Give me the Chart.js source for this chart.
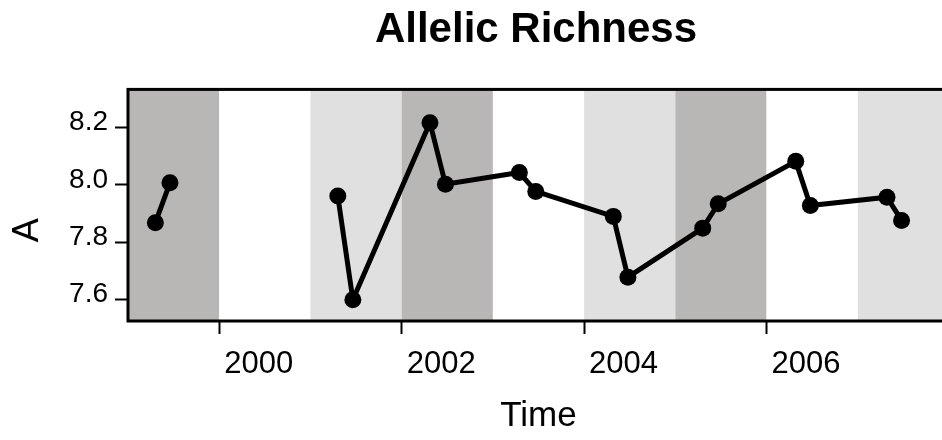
<!DOCTYPE html>
<html>
<head>
<meta charset="utf-8">
<script src="https://cdn.jsdelivr.net/npm/chart.js@4.4.1/dist/chart.umd.min.js"></script>
<style>
html,body{margin:0;padding:0;background:#fff;overflow:hidden}
#wrap{width:1072px;height:440px}
</style>
</head>
<body>
<div id="wrap"><canvas id="grafico"></canvas></div>
<script>
// sampling dates (decimal years) and allelic richness; null = no sample (gap in line)
const sampleTime=[1999.30,1999.46,2000.40,2001.30,2001.465,2002.31,2002.48,2003.29,2003.47,2004.32,2004.48,2005.30,2005.47,2006.32,2006.48,2007.32,2007.48];
const richness=[7.868,8.007,null,7.961,7.599,8.217,8.002,8.043,7.977,7.890,7.678,7.849,7.934,8.082,7.928,7.957,7.876];
const yearTicks=[2000,2002,2004,2006];
const richnessTicks=[7.6,7.8,8.0,8.2];
// background year bands
const bandYears=[1999,2000,2001,2002,2003,2004,2005,2006,2007];
const bandShade=['dark','white','light','dark','white','light','dark','white','light'];
const shades={dark:'#b9b6b6',light:'#e0e0e0',white:'#ffffff'};
const F='"Liberation Sans", Arial, sans-serif';

const bands={id:'bands',beforeDatasetsDraw(c){
 const {ctx,chartArea:a,scales:{x}}=c;
 ctx.save();
 bandYears.forEach((yr,i)=>{
  const l=x.getPixelForValue(yr), r=x.getPixelForValue(yr+1);
  ctx.fillStyle=shades[bandShade[i]];
  ctx.fillRect(l,a.top,r-l,a.bottom-a.top);
 });
 ctx.restore();
}};
const frame={id:'frame',afterDatasetsDraw(c){
 const {ctx,chartArea:a}=c;
 ctx.save();
 ctx.strokeStyle='#000';ctx.lineWidth=3;
 ctx.strokeRect(a.left,a.top,a.right-a.left,a.bottom-a.top);
 ctx.restore();
}};

const tickGrid={drawOnChartArea:false,drawTicks:true,tickLength:13,tickColor:'#000',tickWidth:2};

new Chart(grafico,{
 type:'line',
 data:{datasets:[{
  data:sampleTime.map((t,i)=>({x:t,y:richness[i]})),
  borderColor:'#000',borderWidth:5,backgroundColor:'#000',
  pointRadius:8.5,pointBorderWidth:0,pointBackgroundColor:'#000',
  spanGaps:false,tension:0
 }]},
 options:{
  responsive:true,maintainAspectRatio:false,animation:false,
  layout:{padding:0},
  plugins:{
   legend:{display:false},tooltip:{enabled:false},
   title:{display:true,text:'Allelic Richness',color:'#000',
    font:{family:F,size:42,weight:'bold',lineHeight:1.2},padding:{top:5,bottom:34}}
  },
  scales:{
   x:{type:'linear',min:1999,max:2008,
    afterBuildTicks:s=>{s.ticks=yearTicks.map(v=>({value:v}))},
    afterFit:s=>{s.height=119},
    grid:tickGrid,border:{display:false},
    ticks:{color:'#000',font:{family:F,size:31},padding:12,align:'start',labelOffset:5,
     maxRotation:0,autoSkip:false,callback:v=>String(v)},
    title:{display:true,text:'Time',color:'#000',font:{family:F,size:35,lineHeight:1.2},padding:{top:0,bottom:3}}
   },
   y:{type:'linear',position:'left',min:7.525,max:8.333,
    afterBuildTicks:s=>{s.ticks=richnessTicks.map(v=>({value:v}))},
    afterFit:s=>{s.width=128},
    grid:tickGrid,border:{display:false},
    ticks:{color:'#000',font:{family:F,size:28},padding:7,labelOffset:-5,callback:v=>v.toFixed(1)},
    title:{display:true,text:'A\u00a0\u00a0\u00a0\u00a0\u00a0',color:'#000',font:{family:F,size:36,lineHeight:1.2},padding:{top:6,bottom:0}}
   },
   yr:{type:'linear',position:'right',display:true,
    grid:{display:false},border:{display:false},ticks:{display:false},
    afterFit:s=>{s.width=123}}
  }
 },
 plugins:[bands,frame]
});
</script>
</body>
</html>
